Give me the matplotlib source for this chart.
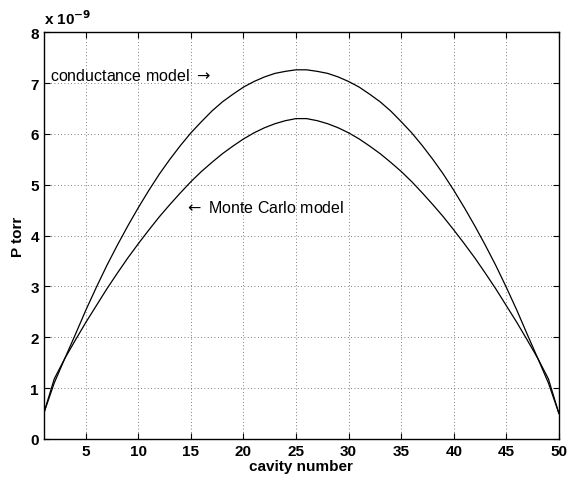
import numpy as np
import matplotlib.pyplot as plt

plt.rcParams['font.family'] = ['Liberation Sans', 'DejaVu Sans']

# cavity numbers 1..50, pressure in units of 1e-9 torr
cavity = np.arange(1, 51)

# first half (cavity 1..25), profile is symmetric about 25.5
half_cond = [0.50, 1.10, 1.58, 2.05, 2.53, 2.98, 3.41, 3.81, 4.19, 4.55,
             4.89, 5.21, 5.50, 5.77, 6.02, 6.24, 6.45, 6.63, 6.78, 6.92,
             7.03, 7.12, 7.19, 7.23, 7.26]
half_mc = [0.50, 1.18, 1.58, 1.94, 2.29, 2.62, 2.95, 3.26, 3.56, 3.84,
           4.11, 4.37, 4.61, 4.84, 5.06, 5.26, 5.44, 5.61, 5.76, 5.90,
           6.02, 6.12, 6.20, 6.26, 6.30]
conductance = np.array(half_cond + half_cond[::-1])
monte_carlo = np.array(half_mc + half_mc[::-1])

xticks = [5, 10, 15, 20, 25, 30, 35, 40, 45, 50]
yticks = [0, 1, 2, 3, 4, 5, 6, 7, 8]

fig = plt.figure(figsize=(5.68, 4.81), dpi=100)
ax = fig.add_axes([0.077, 0.0855, 0.907, 0.8455])

ax.plot(cavity, conductance, 'k-', lw=0.9)
ax.plot(cavity, monte_carlo, 'k-', lw=0.9)

ax.set_xlim(1, 50)
ax.set_ylim(0, 8)
ax.set_xticks(xticks)
ax.set_yticks(yticks)
ax.grid(True, color='#555555', ls=(0, (1, 3)), lw=0.6)
ax.tick_params(direction='in', top=True, right=True, length=4, width=0.8,
               labelsize=11)
for lab in ax.get_xticklabels() + ax.get_yticklabels():
    lab.set_fontweight('bold')
for s in ax.spines.values():
    s.set_linewidth(1.0)

ax.set_xlabel('cavity number', fontsize=11, fontweight='bold', labelpad=1)
ax.set_ylabel('P torr', fontsize=11, fontweight='bold', labelpad=4)

fig.text(0.077, 0.942, r'x 10$^{\mathbf{-9}}$', fontsize=11, fontweight='bold',
         ha='left', va='bottom')

ax.text(1.6, 7.15, r'conductance model $\rightarrow$', fontsize=11.5,
        va='center', ha='left')
ax.text(14.3, 4.56, r'$\leftarrow$ Monte Carlo model', fontsize=11.5,
        va='center', ha='left')

fig.savefig('out.png', dpi=100)
